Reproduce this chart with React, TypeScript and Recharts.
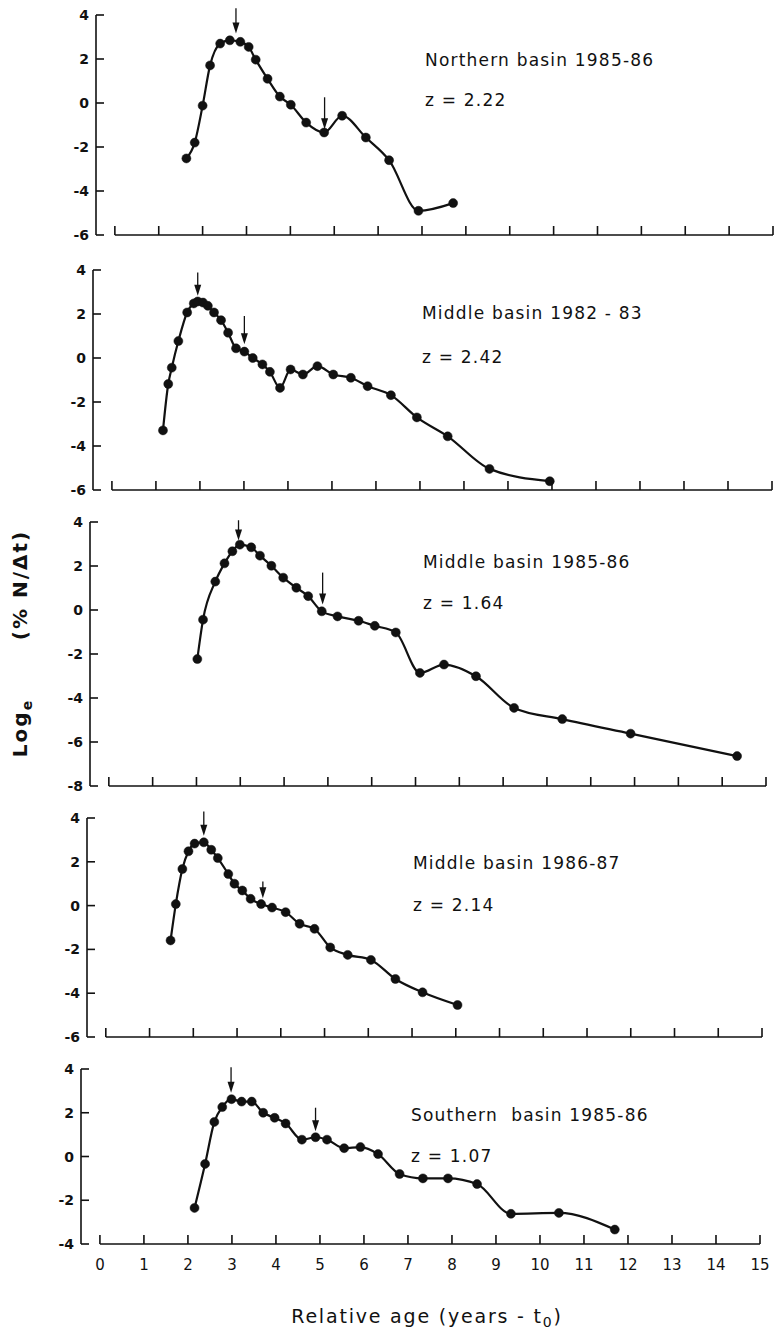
import React from 'react';
import { LineChart, Line, XAxis, YAxis, ReferenceLine } from 'recharts';

// ---------- shared axis ticks ----------
const ageTicks = [0, 1, 2, 3, 4, 5, 6, 7, 8, 9, 10, 11, 12, 13, 14, 15];
const logTicksA = [4, 2, 0, -2, -4, -6];
const logTicksB = [4, 2, 0, -2, -4, -6, -8];
const logTicksC = [4, 2, 0, -2, -4];

// ---------- Northern basin 1985-86 ----------
const north8586Age = [1.63, 1.82, 2.0, 2.17, 2.4, 2.62, 2.86, 3.05, 3.21, 3.48, 3.76, 4.01, 4.36, 4.77, 5.18, 5.72, 6.25, 6.92, 7.71];
const north8586Log = [-2.52, -1.8, -0.12, 1.71, 2.7, 2.85, 2.78, 2.55, 1.97, 1.1, 0.29, -0.08, -0.89, -1.34, -0.58, -1.57, -2.6, -4.9, -4.55];
const north8586ArrowAge = [2.76, 4.78];
const north8586ArrowFrom = [4.31, 0.26];
const north8586ArrowTo = [3.16, -1.19];

// ---------- Middle basin 1982-83 ----------
const mid8283Age = [1.16, 1.28, 1.36, 1.51, 1.71, 1.86, 1.95, 2.07, 2.18, 2.32, 2.48, 2.64, 2.82, 3.01, 3.2, 3.42, 3.59, 3.82, 4.06, 4.34, 4.67, 5.03, 5.43, 5.81, 6.34, 6.93, 7.63, 8.58, 9.95];
const mid8283Log = [-3.29, -1.18, -0.44, 0.77, 2.07, 2.48, 2.57, 2.52, 2.37, 2.07, 1.72, 1.15, 0.44, 0.29, 0.0, -0.29, -0.63, -1.36, -0.52, -0.75, -0.37, -0.75, -0.9, -1.28, -1.69, -2.7, -3.56, -5.04, -5.6];
const mid8283ArrowAge = [1.95, 3.01];
const mid8283ArrowFrom = [3.89, 1.91];
const mid8283ArrowTo = [2.83, 0.62];

// ---------- Middle basin 1985-86 ----------
const mid8586Age = [2.02, 2.15, 2.43, 2.64, 2.82, 2.99, 3.25, 3.45, 3.71, 3.98, 4.28, 4.55, 4.86, 5.22, 5.7, 6.07, 6.55, 7.1, 7.65, 8.38, 9.25, 10.35, 11.91, 14.34];
const mid8586Log = [-2.23, -0.44, 1.29, 2.12, 2.67, 2.97, 2.85, 2.47, 2.01, 1.47, 1.01, 0.63, -0.06, -0.29, -0.49, -0.72, -1.02, -2.86, -2.48, -3.01, -4.45, -4.96, -5.62, -6.64];
const mid8586ArrowAge = [2.96, 4.88];
const mid8586ArrowFrom = [4.08, 1.7];
const mid8586ArrowTo = [3.16, 0.25];

// ---------- Middle basin 1986-87 ----------
const mid8687Age = [1.48, 1.6, 1.75, 1.89, 2.03, 2.24, 2.41, 2.56, 2.8, 2.94, 3.12, 3.31, 3.55, 3.8, 4.11, 4.43, 4.77, 5.13, 5.53, 6.06, 6.62, 7.24, 8.04];
const mid8687Log = [-1.59, 0.07, 1.67, 2.48, 2.83, 2.89, 2.55, 2.17, 1.44, 1.0, 0.69, 0.31, 0.07, -0.09, -0.3, -0.83, -1.06, -1.91, -2.25, -2.48, -3.35, -3.96, -4.54];
const mid8687ArrowAge = [2.24, 3.59];
const mid8687ArrowFrom = [4.3, 1.1];
const mid8687ArrowTo = [3.19, 0.34];

// ---------- Southern basin 1985-86 ----------
const south8586Age = [2.15, 2.39, 2.6, 2.78, 2.99, 3.22, 3.45, 3.71, 3.97, 4.22, 4.59, 4.9, 5.16, 5.55, 5.92, 6.32, 6.81, 7.34, 7.91, 8.57, 9.34, 10.43, 11.7];
const south8586Log = [-2.35, -0.34, 1.58, 2.26, 2.62, 2.51, 2.51, 2.0, 1.77, 1.51, 0.77, 0.88, 0.77, 0.38, 0.43, 0.11, -0.8, -1.0, -1.0, -1.26, -2.62, -2.58, -3.34];
const south8586ArrowAge = [2.98, 4.9];
const south8586ArrowFrom = [4.08, 2.23];
const south8586ArrowTo = [2.92, 1.15];

// ---------- labels ----------
const panelTitles = ['Northern basin 1985-86', 'Middle basin 1982 - 83', 'Middle basin 1985-86', 'Middle basin 1986-87', 'Southern  basin 1985-86'];
const panelZ = ['z = 2.22', 'z = 2.42', 'z = 1.64', 'z = 2.14', 'z = 1.07'];

const FONT = '"DejaVu Sans", sans-serif';
const INK = '#111';

const zip = (xs: number[], ys: number[]) => xs.map((a, i) => ({ age: a, v: ys[i] }));

// layout only (page pixels)
const PANELS = [
  { age: north8586Age, log: north8586Log, aa: north8586ArrowAge, af: north8586ArrowFrom, at: north8586ArrowTo, ticks: logTicksA, top: 15, bottom: 235, left: 96, right: 773, tx: 425, ty: 66, zy: 106 },
  { age: mid8283Age, log: mid8283Log, aa: mid8283ArrowAge, af: mid8283ArrowFrom, at: mid8283ArrowTo, ticks: logTicksA, top: 270, bottom: 490, left: 93, right: 772, tx: 422, ty: 319, zy: 363 },
  { age: mid8586Age, log: mid8586Log, aa: mid8586ArrowAge, af: mid8586ArrowFrom, at: mid8586ArrowTo, ticks: logTicksB, top: 522, bottom: 786, left: 90, right: 766, tx: 423, ty: 568, zy: 609 },
  { age: mid8687Age, log: mid8687Log, aa: mid8687ArrowAge, af: mid8687ArrowFrom, at: mid8687ArrowTo, ticks: logTicksA, top: 818, bottom: 1037, left: 87, right: 762, tx: 413, ty: 869, zy: 911 },
  { age: south8586Age, log: south8586Log, aa: south8586ArrowAge, af: south8586ArrowFrom, at: south8586ArrowTo, ticks: logTicksC, top: 1069, bottom: 1244, left: 81, right: 760, tx: 411, ty: 1121, zy: 1162 },
];

const YTick = (props: any) => {
  const { x, y, payload } = props;
  return (
    <g>
      <line x1={x} y1={y} x2={x + 8} y2={y} stroke={INK} strokeWidth={1.6} />
      <text x={x - 7} y={y} dy={5} textAnchor="end" fontSize={14} fontWeight="bold" fontFamily={FONT} fill={INK}>
        {payload.value}
      </text>
    </g>
  );
};

const makeXTick = (showLabel: boolean) => (props: any) => {
  const { x, y, payload } = props;
  return (
    <g>
      <line x1={x} y1={y} x2={x} y2={y - 9} stroke={INK} strokeWidth={1.6} />
      {showLabel && (
        <text x={x} y={y + 26} textAnchor="middle" fontSize={15} fontFamily={FONT} fill={INK}>
          {payload.value}
        </text>
      )}
    </g>
  );
};

const ArrowShape = (props: any) => {
  const { x1, y1, x2, y2 } = props;
  return (
    <g>
      <line x1={x1} y1={y1} x2={x2} y2={y2 - 4} stroke={INK} strokeWidth={1.3} />
      <path d={`M${x2 - 3.5},${y2 - 11} L${x2 + 3.5},${y2 - 11} L${x2},${y2} Z`} fill={INK} />
    </g>
  );
};

const MT = 12;
const XH = 34;
const YW = 40;

export default function App() {
  return (
    <div style={{ position: 'absolute', left: 0, top: 0, width: 774, height: 1334, background: '#fff' }}>
      {PANELS.map((p, i) => {
        const yMin = p.ticks[p.ticks.length - 1];
        const yMax = p.ticks[0];
        const h = p.bottom - p.top + MT + XH;
        return (
          <div key={i} style={{ position: 'absolute', left: 0, top: p.top - MT }}>
            <LineChart
              width={774}
              height={h}
              data={zip(p.age, p.log)}
              margin={{ top: MT, right: 774 - p.right, bottom: 0, left: p.left - YW }}
            >
              <XAxis
                dataKey="age"
                type="number"
                domain={[-0.43, 15]}
                allowDataOverflow
                ticks={ageTicks}
                interval={0}
                axisLine={false}
                tickLine={false}
                tickSize={0}
                tickMargin={0}
                height={XH}
                tick={makeXTick(i === PANELS.length - 1)}
              />
              <YAxis
                type="number"
                domain={[yMin, yMax]}
                allowDataOverflow
                ticks={p.ticks}
                interval={0}
                width={YW}
                axisLine={{ stroke: INK, strokeWidth: 1.6 }}
                tickLine={false}
                tickSize={0}
                tickMargin={0}
                tick={<YTick />}
              />
              <ReferenceLine
                segment={[{ x: 0, y: yMin }, { x: 15, y: yMin }]}
                stroke={INK}
                strokeWidth={1.6}
                ifOverflow="visible"
              />
              {p.aa.map((a, k) => (
                <ReferenceLine
                  key={k}
                  segment={[{ x: a, y: p.af[k] }, { x: a, y: p.at[k] }]}
                  ifOverflow="visible"
                  shape={ArrowShape}
                />
              ))}
              <Line
                dataKey="v"
                type="monotone"
                stroke={INK}
                strokeWidth={2.2}
                dot={{ r: 4.5, fill: INK, stroke: INK, strokeWidth: 0.5 }}
                isAnimationActive={false}
              />
            </LineChart>
          </div>
        );
      })}
      <svg width={774} height={1334} style={{ position: 'absolute', left: 0, top: 0, pointerEvents: 'none' }}>
        {PANELS.map((p, i) => (
          <g key={i} fontFamily={FONT} fontSize={17} fill={INK} letterSpacing={1.2}>
            <text x={p.tx} y={p.ty} style={{ whiteSpace: 'pre' }}>{panelTitles[i]}</text>
            <text x={p.tx} y={p.zy} style={{ whiteSpace: 'pre' }}>{panelZ[i]}</text>
          </g>
        ))}
        <g transform="translate(27,643) rotate(-90)" fontFamily={FONT} fill={INK} fontWeight="bold">
          <text x={-85} y={0} fontSize={20} letterSpacing={2} textAnchor="middle">
            Log<tspan fontSize={14} dy={5}>e</tspan>
          </text>
          <text x={58} y={0} fontSize={20} letterSpacing={2} textAnchor="middle">(% N/Δt)</text>
        </g>
        <text x={427} y={1323} textAnchor="middle" fontFamily={FONT} fontSize={19} letterSpacing={1.8} fill={INK}>
          Relative age (years - t<tspan fontSize={14} dy={4}>0</tspan><tspan dy={-4}>)</tspan>
        </text>
      </svg>
    </div>
  );
}
